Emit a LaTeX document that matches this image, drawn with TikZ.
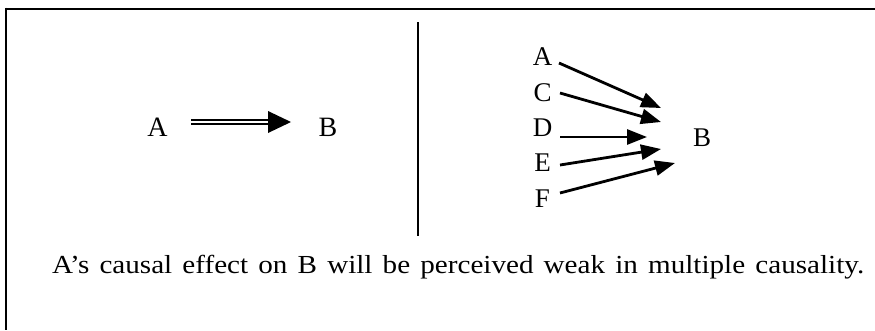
\documentclass[tikz,border=0pt]{standalone}
\usepackage{fontspec}
\setmainfont{Liberation Serif}
\usetikzlibrary{arrows.meta}
\begin{document}
\begin{tikzpicture}[x=1pt,y=-1pt,
  lbl/.style={inner sep=0pt,font=\fontsize{28}{32}\selectfont},
  rlbl/.style={inner sep=0pt,font=\fontsize{27}{31}\selectfont},
  arr/.style={line width=2.8pt,-{Triangle[length=20pt,width=15pt]}},
  frame/.style={line width=2.6pt}]
\useasboundingbox (0,0) rectangle (875,330);
% frame
\draw[frame] (6,9) -- (875,9);
\draw[frame] (6,7.7) -- (6,330);
% divider
\draw[line width=2pt] (418,22) -- (418,236);
% left panel
\node[lbl] (la) at (157.5,127) {A};
\node[lbl] (lb) at (328,127) {B};
\coordinate (ds) at (191,122);
\coordinate (dt) at (291,122);
\draw[line width=2.2pt] ([yshift=-1.65pt]ds) -- ([xshift=-21pt,yshift=-1.65pt]dt);
\draw[line width=2.2pt] ([yshift=1.65pt]ds) -- ([xshift=-21pt,yshift=1.65pt]dt);
\fill (dt) -- ([xshift=-23pt,yshift=-11pt]dt) -- ([xshift=-23pt,yshift=11pt]dt) -- cycle;
% right panel
\node[rlbl] (ra) at (542.5,57) {A};
\node[rlbl] (rc) at (542.5,93) {C};
\node[rlbl] (rd) at (542.5,128) {D};
\node[rlbl] (re) at (542.5,163) {E};
\node[rlbl] (rf) at (542.5,199) {F};
\node[rlbl] (rb) at (702,137.5) {B};
\coordinate (ta) at (661,108);
\coordinate (tc) at (661,122);
\coordinate (td) at (647,137);
\coordinate (te) at (661,149);
\coordinate (tf) at (675,163);
\draw[arr] (559,63) -- (ta);
\draw[arr] (560,93) -- (tc);
\draw[arr] (560,137) -- (td);
\draw[arr] (560,165) -- (te);
\draw[arr] (560,193) -- (tf);
% caption
\node[inner sep=0pt,font=\fontsize{26}{30}\selectfont,anchor=base west] (cap) at (52,273)
  {\scalebox{1.12}[1]{\makebox[725pt][s]{A’s causal effect on B will be perceived weak in multiple causality.}}};
\end{tikzpicture}
\end{document}
